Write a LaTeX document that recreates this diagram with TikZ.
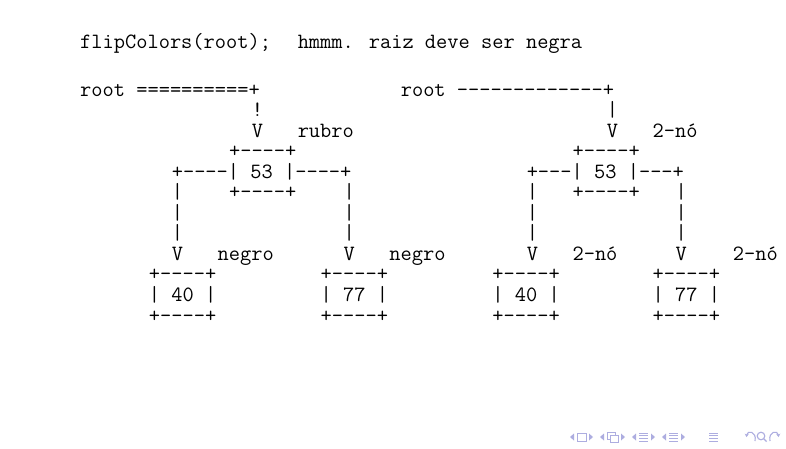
\documentclass[tikz,border=0pt]{standalone}
\usepackage{tikz}
\usetikzlibrary{arrows.meta}
\definecolor{navc}{RGB}{173,173,224}
% monospace cell grid: 11.45pt per column, first column at x=80
\newcommand\colx[1]{80+#1*11.45}
\newcommand\rowy[1]{96+(#1-3)*20.55}
% a run of hyphens that never merges into an en dash
\newcommand\dashes[1]{\foreach\k in {1,...,#1}{-\kern0pt}}
\tikzset{
  tt/.style={anchor=base west, inner sep=0pt,
    font=\fontsize{21.8}{20.55}\selectfont\ttfamily},
  navtri/.style={fill=navc},
  navline/.style={draw=navc, line width=1pt},
  navarrow/.style={draw=navc, line width=1.1pt, -{Stealth[length=3.2pt,width=4pt]}},
}
% \tok{column}{row}{text}
\newcommand\tok[3]{\node[tt] (t#2-#1) at ({\colx{#1}},{\rowy{#2}}) {#3};}
% beamer-like navigation icons
\newcommand\lefttri[2]{\fill[navtri] (#1,#2) -- ++(4,-3.5) -- ++(0,7) -- cycle;}
\newcommand\righttri[2]{\fill[navtri] (#1,#2) -- ++(-4,-3.5) -- ++(0,7) -- cycle;}
\newcommand\menu[2]{\foreach \yy in {-4,-1.3,1.4,4.1} \draw[navline] (#1,#2+\yy) -- ++(9,0);}
\begin{document}
\begin{tikzpicture}[x=1pt,y=-1pt]
\path[use as bounding box, fill=white] (0,0) rectangle (786,448);

% heading line
\node[tt] (head1) at ({\colx{0}},48) {flipColors(root);};
\node[tt] (head2) at ({\colx{19}},48) {hmmm. raiz deve ser negra};

% left tree
\tok{0}{3}{root ==========+}
\tok{15}{4}{!}
\tok{15}{5}{V}
\tok{19}{5}{rubro}
\tok{13}{6}{+\dashes{4}+}
\tok{8}{7}{+\dashes{4}| 53 |\dashes{4}+}
\tok{8}{8}{|}
\tok{13}{8}{+\dashes{4}+}
\tok{23}{8}{|}
\tok{8}{9}{|}
\tok{23}{9}{|}
\tok{8}{10}{|}
\tok{23}{10}{|}
\tok{8}{11}{V}
\tok{12}{11}{negro}
\tok{23}{11}{V}
\tok{27}{11}{negro}
\tok{6}{12}{+\dashes{4}+}
\tok{21}{12}{+\dashes{4}+}
\tok{6}{13}{| 40 |}
\tok{21}{13}{| 77 |}
\tok{6}{14}{+\dashes{4}+}
\tok{21}{14}{+\dashes{4}+}

% right tree
\tok{28}{3}{root \dashes{13}+}
\tok{46}{4}{|}
\tok{46}{5}{V}
\tok{50}{5}{2-nó}
\tok{43}{6}{+\dashes{4}+}
\tok{39}{7}{+\dashes{3}| 53 |\dashes{3}+}
\tok{39}{8}{|}
\tok{43}{8}{+\dashes{4}+}
\tok{52}{8}{|}
\tok{39}{9}{|}
\tok{52}{9}{|}
\tok{39}{10}{|}
\tok{52}{10}{|}
\tok{39}{11}{V}
\tok{43}{11}{2-nó}
\tok{52}{11}{V}
\tok{57}{11}{2-nó}
\tok{36}{12}{+\dashes{4}+}
\tok{50}{12}{+\dashes{4}+}
\tok{36}{13}{| 40 |}
\tok{50}{13}{| 77 |}
\tok{36}{14}{+\dashes{4}+}
\tok{50}{14}{+\dashes{4}+}

% navigation symbols
\lefttri{570}{437}
\draw[navc, line width=1pt] (577,433) rectangle (586,441);
\righttri{593}{437}
\lefttri{600}{437}
\draw[navc, line width=0.9pt] (607,432) rectangle (615,439);
\draw[navc, line width=0.9pt, fill=white] (610,435) rectangle (618,442);
\righttri{625}{437}
\lefttri{632}{437}
\menu{639}{437}
\righttri{655}{437}
\lefttri{662}{437}
\menu{669}{437}
\righttri{685}{437}
\menu{709}{437}
\draw[navarrow] (755,441) .. controls (757,431) and (747,430) .. (746.5,437);
\draw[navc, line width=1.1pt] (761,436) circle[radius=3.8];
\draw[navc, line width=1.4pt] (763.8,438.8) -- (766.5,441.5);
\draw[navarrow] (770,441) .. controls (768,431) and (778,430) .. (778.5,437);
\end{tikzpicture}
\end{document}
